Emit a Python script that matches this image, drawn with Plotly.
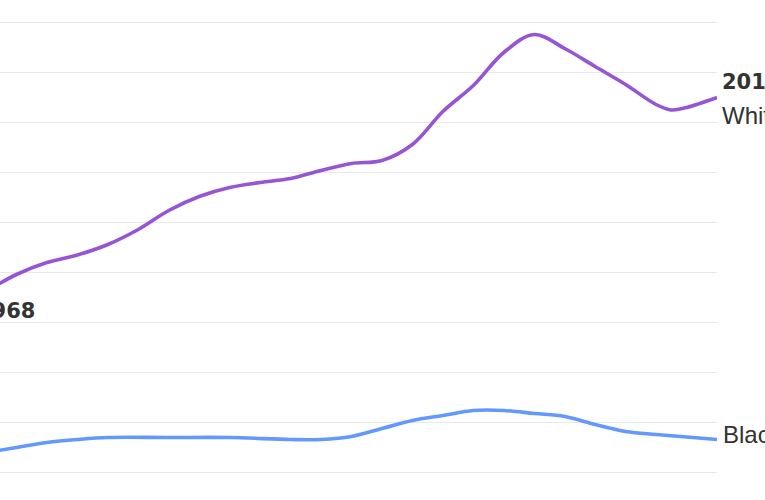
import plotly.graph_objects as go

# Values in arbitrary units (gridline step = 20)
white_years = [1968, 1970, 1972, 1974, 1976, 1978, 1980, 1982, 1984, 1986, 1988, 1990,
               1992, 1994, 1996, 1998, 2000, 2002, 2004, 2006, 2008, 2010, 2012, 2013, 2014, 2016]
white_vals = [72.4, 79.2, 84.0, 87.0, 91.2, 97.2, 104.8, 110.4, 114.0, 116.0, 117.6, 120.8,
              123.6, 124.8, 131.2, 144.4, 154.8, 168.0, 175.2, 169.6, 162.4, 155.2, 147.2, 145.0, 146.0, 150.0]

black_years = [1968, 1970, 1972, 1974, 1976, 1980, 1984, 1988, 1990, 1992, 1994, 1996, 1998,
               2000, 2002, 2004, 2006, 2008, 2010, 2012, 2014, 2016]
black_vals = [8.0, 10.0, 12.0, 13.2, 14.0, 14.0, 14.0, 13.2, 13.2, 14.4, 17.6, 20.8, 22.8,
              24.8, 24.8, 23.6, 22.4, 19.2, 16.4, 15.2, 14.2, 13.2]

start_label = "1968"
end_label = "2016"
series_names = ["White", "Black"]

x_range = [1968.92, 2016]
y_range = [-11.0, 189.0]

PURPLE = "#9656d4"
BLUE = "#6399ff"
TEXT = "#333333"
FONT = "Liberation Sans, Arial, Helvetica, sans-serif"
BOLD_FONT = "DejaVu Sans, Liberation Sans, sans-serif"

fig = go.Figure()
fig.add_trace(go.Scatter(x=white_years, y=white_vals, mode="lines", name=series_names[0],
                         line=dict(color=PURPLE, width=3.6, shape="spline", smoothing=1.0),
                         hoverinfo="skip"))
fig.add_trace(go.Scatter(x=black_years, y=black_vals, mode="lines", name=series_names[1],
                         line=dict(color=BLUE, width=3.6, shape="spline", smoothing=1.0),
                         hoverinfo="skip"))

annotations = [
    dict(x=-25 / 717, xref="paper", y=white_vals[0], yref="y", text="<b>" + start_label + "</b>",
         xanchor="left", yanchor="top", yshift=-5, showarrow=False,
         font=dict(size=21, color=TEXT, family=BOLD_FONT)),
    dict(x=white_years[-1], xref="x", y=white_vals[-1], yref="y", text="<b>" + end_label + "</b>",
         xanchor="left", yanchor="middle", xshift=3, yshift=16, showarrow=False,
         font=dict(size=21, color=TEXT, family=BOLD_FONT)),
    dict(x=white_years[-1], xref="x", y=white_vals[-1], yref="y", text=series_names[0],
         xanchor="left", yanchor="middle", xshift=3, yshift=-18, showarrow=False,
         font=dict(size=24, color=TEXT, family=FONT)),
    dict(x=black_years[-1], xref="x", y=black_vals[-1], yref="y", text=series_names[1],
         xanchor="left", yanchor="middle", xshift=4, yshift=5, showarrow=False,
         font=dict(size=24, color=TEXT, family=FONT)),
]

fig.update_layout(
    width=765, height=500,
    margin=dict(l=0, r=48, t=0, b=0),
    paper_bgcolor="white", plot_bgcolor="white",
    showlegend=False,
    annotations=annotations,
    xaxis=dict(range=x_range, showgrid=False, zeroline=False, showticklabels=False,
               ticks="", showline=False, fixedrange=True),
    yaxis=dict(range=y_range, showgrid=True, gridcolor="#e9e9e9", gridwidth=1.2,
               tick0=0, dtick=20, zeroline=False, showticklabels=False, ticks="",
               showline=False, fixedrange=True),
)

fig.write_html("out.html", config={"displayModeBar": False},
               post_script="document.body.style.margin='0';document.body.style.overflow='hidden';")
